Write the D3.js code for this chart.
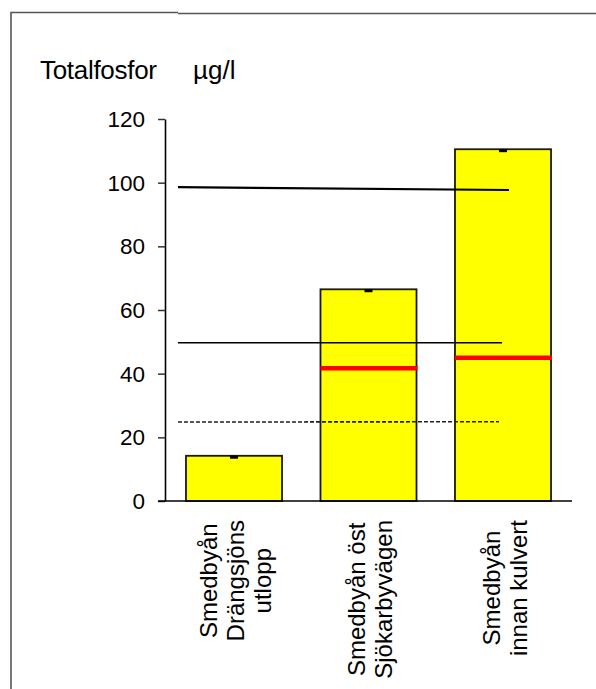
<!DOCTYPE html>
<html>
<head>
<meta charset="utf-8">
<script src="https://cdn.jsdelivr.net/npm/d3@7"></script>
<style>
  html, body { margin: 0; padding: 0; background: #fff; }
  svg { display: block; }
  text { font-family: "Liberation Sans", Arial, sans-serif; fill: #000; }
</style>
</head>
<body>
<div id="chart"></div>
<script>
// Sampling sites (label lines), total phosphorus in µg/l
const categories = ["Smedbyån Drängsjöns utlopp", "Smedbyån öst Sjökarbyvägen", "Smedbyån innan kulvert"];
const labelLines = [["Smedbyån", "Drängsjöns", "utlopp"], ["Smedbyån öst", "Sjökarbyvägen"], ["Smedbyån", "innan kulvert"]];
const values = [14.2, 66.5, 110.5];
const errors = [0.9, 0.9, 0.9];
const redLevels = [null, 41.7, 45.0];
// Reference levels: start value, end value, dashed
const refStart = [98.6, 49.7, 24.8];
const refEnd = [97.7, 49.7, 24.9];
const refDashed = [false, false, true];
const refWidth = [2.2, 1.4, 1.6];
const yTicks = [0, 20, 40, 60, 80, 100, 120];

const W = 596, H = 689;
const svg = d3.select("#chart").append("svg").attr("width", W).attr("height", H);

// outer frame
svg.append("path")
  .attr("d", "M11,689 L11,12.5 L178,12.5 M178,13.5 L596,13.5")
  .attr("fill", "none").attr("stroke", "#555").attr("stroke-width", 1.6);

const y = d3.scaleLinear().domain([0, 120]).range([501, 119]);
const x = d3.scaleBand().domain(categories).range([165, 572]).paddingInner(0.286).paddingOuter(0.156);
const axisX = 165;

// titles
svg.append("text").attr("x", 40).attr("y", 79).attr("font-size", 26).attr("letter-spacing", -0.3).text("Totalfosfor");
svg.append("text").attr("x", 193).attr("y", 79).attr("font-size", 26).text("µg/l");

// y axis
const yAxis = d3.axisLeft(y).tickValues(yTicks).tickSize(7).tickPadding(13).tickSizeOuter(0);
const ga = svg.append("g").attr("transform", `translate(${axisX},0)`).call(yAxis);
ga.select(".domain").attr("stroke", "#000").attr("stroke-width", 1.6);
ga.selectAll(".tick line").attr("stroke", "#333").attr("stroke-width", 1.5);
ga.selectAll(".tick text").attr("font-size", 22.5).attr("font-family", "Liberation Sans, Arial, sans-serif").attr("fill", "#000").attr("dy", "0.34em");

// bars
svg.append("g").selectAll("rect").data(categories).join("rect")
  .attr("x", d => x(d))
  .attr("y", (d, i) => y(values[i]))
  .attr("width", x.bandwidth())
  .attr("height", (d, i) => y(0) - y(values[i]))
  .attr("fill", "#ffff00").attr("stroke", "#1a1a00").attr("stroke-width", 1.8);

// x baseline
svg.append("line").attr("x1", axisX - 7).attr("x2", x.range()[1])
  .attr("y1", y(0)).attr("y2", y(0)).attr("stroke", "#000").attr("stroke-width", 1.6);

// error marks
svg.append("g").selectAll("line").data(categories).join("line")
  .attr("x1", d => x(d) + x.bandwidth() / 2 - 4)
  .attr("x2", d => x(d) + x.bandwidth() / 2 + 4)
  .attr("y1", (d, i) => y(values[i] - errors[i] / 2))
  .attr("y2", (d, i) => y(values[i] - errors[i] / 2))
  .attr("stroke", "#000").attr("stroke-width", 3);

// red level marks
svg.append("g").selectAll("line").data(categories.filter((d, i) => redLevels[i] != null)).join("line")
  .attr("x1", d => x(d))
  .attr("x2", d => x(d) + x.bandwidth() + 1)
  .attr("y1", d => y(redLevels[categories.indexOf(d)]))
  .attr("y2", d => y(redLevels[categories.indexOf(d)]))
  .attr("stroke", "#ff0000").attr("stroke-width", 4.5);

// reference lines
const refX0 = axisX + 13;
const refX1 = [x(categories[2]) + x.bandwidth() / 2 + 6, x(categories[2]) + x.bandwidth() / 2 - 1, x(categories[2]) + x.bandwidth() / 2 - 4];
svg.append("g").selectAll("line").data(refStart).join("line")
  .attr("x1", refX0)
  .attr("x2", (d, i) => refX1[i])
  .attr("y1", d => y(d))
  .attr("y2", (d, i) => y(refEnd[i]))
  .attr("stroke", (d, i) => refDashed[i] ? "#222" : "#000")
  .attr("stroke-width", (d, i) => refWidth[i])
  .attr("stroke-dasharray", (d, i) => refDashed[i] ? "4,2" : null);

// category labels, rotated, lines centred in a block hanging below the axis
const lineGap = 27;
const lg = svg.append("g");
labelLines.forEach((lines, i) => {
  const cx = x(categories[i]) + x.bandwidth() / 2;
  const g = lg.append("g");
  const texts = lines.map((s, k) => g.append("text")
    .attr("font-size", 24).attr("text-anchor", "middle").text(s));
  const maxLen = d3.max(texts, t => t.node().getComputedTextLength());
  const cy = 520 + maxLen / 2;
  texts.forEach((t, k) => {
    const lx = cx + (k - (lines.length - 1) / 2) * lineGap + 10;
    t.attr("transform", `translate(${lx},${cy}) rotate(-90)`);
  });
});
</script>
</body>
</html>
